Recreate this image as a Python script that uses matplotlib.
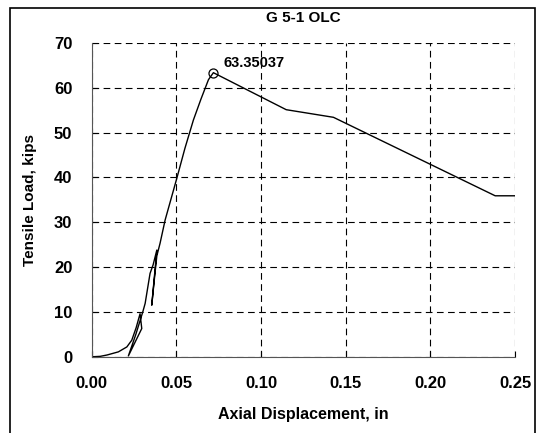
import matplotlib
matplotlib.use('Agg')
import matplotlib.pyplot as plt
from matplotlib.patches import Rectangle

plt.rcParams['font.family'] = ['Liberation Sans', 'DejaVu Sans']
plt.rcParams['font.weight'] = 'bold'

# load-displacement trace
disp = [0.0, 0.005, 0.009, 0.0157, 0.0207, 0.0236, 0.0262, 0.0285, 0.0295, 0.0216,
        0.0260, 0.0301, 0.0315, 0.0344, 0.0362, 0.0384, 0.0354, 0.0370, 0.0384, 0.0403,
        0.0433, 0.0502, 0.0550, 0.0600, 0.0645, 0.0689, 0.0718, 0.1148, 0.1427, 0.2382, 0.2500]
load = [0.0, 0.1, 0.4, 1.1, 2.2, 3.7, 6.5, 9.6, 6.3, 0.2,
        5.0, 10.0, 11.9, 18.6, 20.5, 23.8, 11.5, 17.5, 22.5, 25.3,
        30.5, 39.8, 46.5, 52.8, 57.5, 61.8, 63.35, 55.1, 53.4, 35.9, 35.9]
peak_x = 0.0718
peak_y = 63.35037

xticks = [0.0, 0.05, 0.10, 0.15, 0.20, 0.25]
yticks = [0, 10, 20, 30, 40, 50, 60, 70]

fig = plt.figure(figsize=(5.4, 4.33), dpi=100)
ax = fig.add_axes([0.170, 0.176, 0.784, 0.725])

ax.plot(disp, load, color='black', lw=1.0)
ax.plot([peak_x], [peak_y], 'o', mfc='none', mec='black', ms=6.5, mew=0.9)
ax.annotate('%.5f' % peak_y, (peak_x, peak_y), xytext=(7, 2), textcoords='offset points',
            fontsize=10.5, fontweight='bold', va='bottom')

ax.set_xlim(0, 0.25)
ax.set_ylim(0, 70)
ax.set_xticks(xticks)
ax.set_yticks(yticks)
ax.set_xticklabels(['%.2f' % t for t in xticks])
ax.grid(True, linestyle=(0, (6, 4)), color='black', lw=0.8)
ax.spines['top'].set_visible(False)
ax.spines['right'].set_visible(False)
ax.spines['left'].set_color('#555555')
ax.spines['bottom'].set_color('#555555')
ax.tick_params(direction='in', length=4, labelsize=12)
ax.tick_params(axis='y', pad=14)
ax.tick_params(axis='x', pad=14)
for lab in ax.get_xticklabels() + ax.get_yticklabels():
    lab.set_fontweight('bold')

ax.set_title('G 5-1 OLC', fontsize=11, fontweight='bold', pad=15)
ax.set_xlabel('Axial Displacement, in', fontsize=11.5, fontweight='bold', labelpad=11)
ax.set_ylabel('Tensile Load, kips', fontsize=11, fontweight='bold', labelpad=12)

# outer frame around the chart area
fig.add_artist(Rectangle((0.0194, -0.05), 0.9722, 1.05 - 8 / 433, transform=fig.transFigure,
                         fill=False, lw=1.2, edgecolor='black'))

plt.savefig('out.png', dpi=100)
